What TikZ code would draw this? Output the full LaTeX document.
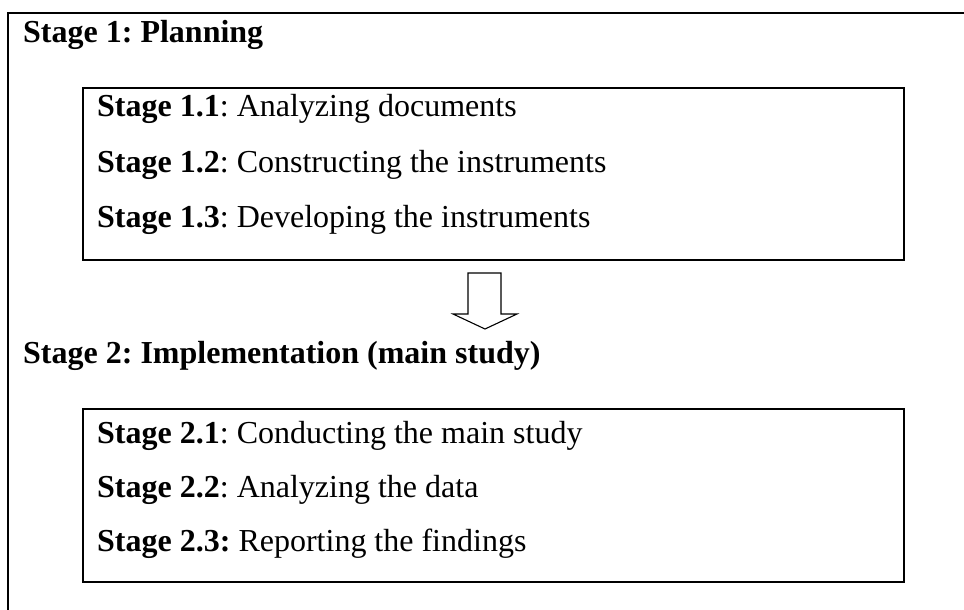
\documentclass[tikz,border=0pt]{standalone}
\usepackage{fontspec}
\setmainfont{Liberation Serif}
\frenchspacing
\begin{document}
\begin{tikzpicture}[x=1pt,y=-1pt,
  frame/.style={draw=black,line width=1.6pt},
  stagebox/.style={frame,rectangle,anchor=north west,inner sep=0pt,outer sep=0pt},
  headline/.style={anchor=base west,inner sep=0pt,font=\fontsize{32}{36}\selectfont\bfseries},
  itemline/.style={anchor=base west,inner sep=0pt,font=\fontsize{32}{36}\selectfont},
  hollowarrow/.style={draw=black,fill=white,line width=1.1pt,line join=miter}]
  \useasboundingbox (0,0) rectangle (964,610);
  % outer frame (open to the right and bottom)
  \draw[frame,line join=miter] (8,610) -- (8,13) -- (964,13);

  \node[headline] (h1) at (23,43) {Stage 1: Planning};

  \node[stagebox,minimum width=821pt,minimum height=172pt] (b1) at (83,88) {};
  \node[itemline] (s11) at (97,117) {\textbf{Stage 1.1}: Analyzing documents};
  \node[itemline] (s12) at (97,172) {\textbf{Stage 1.2}: Constructing the instruments};
  \node[itemline] (s13) at (97,227) {\textbf{Stage 1.3}: Developing the instruments};

  % hollow down arrow between the stages
  \draw[hollowarrow] (468,273) -- (501,273) -- (501,314) -- (517,314) -- (485,329)
    -- (453,314) -- (468,314) -- cycle;

  \node[headline] (h2) at (23,363) {Stage 2: Implementation (main study)};

  \node[stagebox,minimum width=821pt,minimum height=173pt] (b2) at (83,409) {};
  \node[itemline] (s21) at (97,443) {\textbf{Stage 2.1}: Conducting the main study};
  \node[itemline] (s22) at (97,497) {\textbf{Stage 2.2}: Analyzing the data};
  \node[itemline] (s23) at (97,551) {\textbf{Stage 2.3:} Reporting the findings};
\end{tikzpicture}
\end{document}
